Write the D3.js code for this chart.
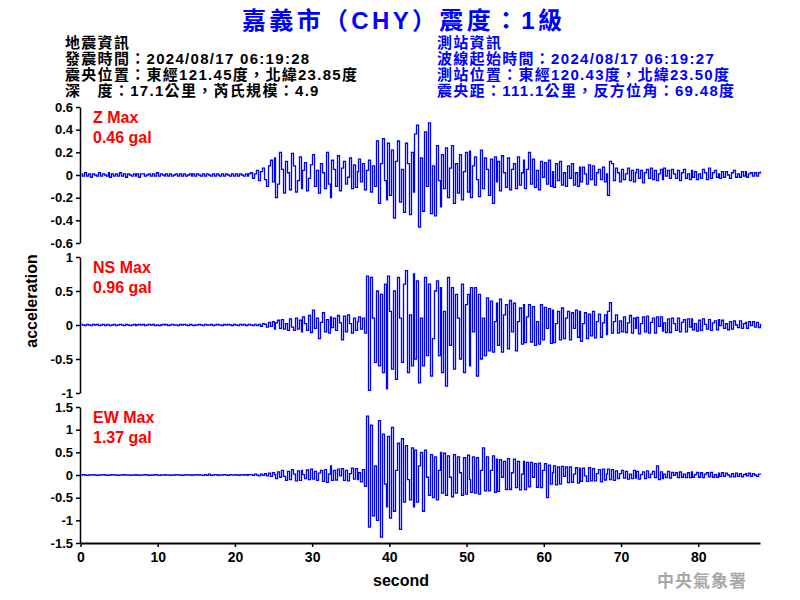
<!DOCTYPE html>
<html><head><meta charset="utf-8">
<script src="https://cdn.jsdelivr.net/npm/d3@7"></script>
<style>body{margin:0;background:#fff}</style>
</head><body><svg id="c" width="800" height="600"></svg>
<script>
const titleText = "嘉義市（CHY）震度：1級";
const quakeInfo = ["地震資訊","發震時間：2024/08/17 06:19:28","震央位置：東經121.45度，北緯23.85度","深　度：17.1公里，芮氏規模：4.9"];
const stationInfo = ["測站資訊","波線起始時間：2024/08/17 06:19:27","測站位置：東經120.43度，北緯23.50度","震央距：111.1公里，反方位角：69.48度"];
const channels = ["Z","NS","EW"];
const maxLabels = ["0.46 gal","0.96 gal","1.37 gal"];
const yLimits = [0.6, 1, 1.5];
const zTicks = [0.6,0.4,0.2,0,-0.2,-0.4,-0.6];
const nsTicks = [1,0.5,0,-0.5,-1];
const ewTicks = [1.5,1,0.5,0,-0.5,-1,-1.5];
const xTicks = [0,10,20,30,40,50,60,70,80];
const dt = 0.25; // seconds between samples
const zData = [
0.01,-0.01,0.02,-0.01, 0.01,-0.02,0.01,0.00, -0.01,0.02,-0.01,0.01, 0.00,-0.01,0.02,-0.02, 0.01,-0.01,0.01,-0.01,
0.02,-0.01,0.01,-0.02, 0.01,0.00,-0.01,0.01, -0.01,0.01,-0.02,0.01, 0.01,-0.01,0.00,0.01, -0.01,0.01,-0.01,0.02,
-0.01,0.01,0.00,-0.01, 0.01,-0.01,0.01,-0.01, 0.00,0.01,-0.01,0.01, -0.01,0.01,-0.01,0.00, 0.01,-0.01,0.01,-0.01,
0.01,0.00,-0.01,0.01, -0.01,0.01,0.00,-0.01, 0.01,-0.01,0.01,0.00, -0.01,0.01,-0.01,0.01, 0.00,-0.01,0.01,-0.01,
0.01,-0.01,0.01,0.00, -0.01,0.01,-0.01,0.01,
0.02,-0.03,0.01,0.04, -0.05,0.03,0.06,-0.04, -0.10,0.08,0.13,-0.06, 0.15,-0.20,-0.08,0.20, 0.05,-0.16,0.12,0.02,
-0.13,0.19,0.08,-0.15, -0.05,0.16,-0.12,0.04, 0.11,-0.14,-0.03,0.09, 0.18,-0.10,0.04,-0.16, 0.10,0.02,-0.12,0.20,
-0.08,-0.20,0.13,0.05, -0.10,0.17,-0.14,0.06, 0.12,-0.08,-0.02,0.15, -0.12,0.09,-0.11,0.03, 0.14,-0.06,0.10,-0.13,
0.04,0.13,-0.15,0.08, -0.10,0.30,-0.25,0.10, 0.32,-0.05,-0.22,0.28, -0.18,0.22,-0.38,0.12, 0.30,-0.24,0.05,-0.33,
0.28,0.10,-0.35,0.20, -0.15,0.36,0.44,-0.46, 0.15,-0.32,0.38,-0.10, 0.46,-0.34,0.08,-0.36, 0.26,-0.05,-0.28,0.18,
-0.12,0.24,-0.20,0.06, 0.26,-0.25,0.10,-0.16, 0.18,-0.22,0.03,0.20, -0.15,0.21,-0.20,0.08, 0.16,-0.04,-0.19,0.22,
-0.12,0.15,0.05,-0.18, 0.14,-0.25,0.16,-0.06, 0.12,-0.14,0.17,0.02, -0.11,0.15,-0.13,0.05, 0.10,-0.12,0.16,-0.09,
0.02,0.13,-0.12,0.05, 0.20,-0.08,0.14,-0.11, 0.04,-0.13,0.12,-0.02, 0.11,-0.08,0.13,-0.10, 0.03,-0.11,0.10,-0.05,
0.12,-0.09,0.02,-0.10, 0.08,-0.03,0.10,-0.09, 0.02,-0.10,0.07,-0.06, 0.07,0.01,-0.08,0.09, -0.04,0.08,-0.09,0.02,
0.05,-0.04,0.07,-0.06, 0.01,-0.18,0.12,0.10, -0.05,0.06,0.02,-0.06, 0.05,-0.04,0.01,0.06, -0.05,0.04,-0.06,0.02,
0.05,-0.03,0.04,-0.07, 0.02,0.05,-0.03,0.06, -0.04,0.04,-0.05,0.01, 0.05,-0.04,0.06,-0.01, 0.04,-0.03,0.05,0.01,
-0.03,0.04,-0.05,0.02, 0.05,-0.03,0.01,-0.04, 0.04,-0.02,0.03,-0.04, 0.01,-0.03,0.05,0.02, -0.04,0.06,-0.03,0.02,
0.04,-0.02,0.01,-0.03, 0.03,-0.02,0.03,0.00, -0.03,0.02,0.04,-0.02, 0.01,-0.02,0.03,-0.01, 0.03,-0.02,0.01,0.02,
-0.01,0.02,-0.01,0.02, 0.03];
const nsData = [
0.01,0.00,-0.01,0.01, 0.00,-0.01,0.01,0.00, 0.01,-0.01,0.00,0.01, -0.01,0.01,0.00,-0.01, 0.00,0.01,-0.01,0.00,
0.01,0.00,-0.01,0.01, 0.00,-0.01,0.00,0.01, -0.01,0.00,0.01,0.00, 0.01,-0.01,0.00,0.01, 0.00,0.01,-0.01,0.00,
-0.01,0.00,0.01,0.00, 0.01,-0.01,0.00,0.01, 0.00,0.00,-0.01,0.01, 0.00,0.01,0.00,-0.01, 0.01,0.00,-0.01,0.00,
0.00,0.01,0.00,-0.01, 0.01,0.00,0.00,0.01, -0.01,0.00,0.01,0.00, 0.00,-0.01,0.01,0.00, 0.01,0.00,-0.01,0.01,
0.00,-0.01,0.01,0.00, 0.01,-0.01,0.00,0.01, 0.00,-0.01,0.01,-0.01,
0.01,-0.02,0.02,0.01, -0.03,0.04,-0.02,0.05, -0.06,0.03,0.07,-0.05, 0.08,-0.06,0.02,-0.08, 0.09,-0.03,-0.08,0.10,
-0.06,0.07,-0.10,0.12, 0.02,-0.08,0.14,-0.11, 0.22,-0.05,0.10,-0.20, 0.04,0.18,-0.10,0.08, -0.12,0.12,-0.04,0.10,
-0.08,0.14,0.03,-0.22, 0.13,-0.10,0.15,0.02, -0.12,0.10,-0.08,0.05, 0.12,-0.06,0.10,-0.12, 0.72,-0.96,0.70,0.10,
-0.55,0.50,-0.60,0.45, -0.70,0.60,-0.94,0.72, 0.20,-0.65,0.50,-0.80, 0.70,0.10,-0.55,0.60, 0.80,-0.70,0.15,-0.60,
0.75,-0.50,0.65,-0.85, 0.10,-0.60,0.70,-0.45, 0.60,-0.75,-0.20,0.50, 0.65,-0.45,0.55,-0.70, 0.20,-0.90,0.70,-0.30,
0.55,-0.65,0.45,0.10, -0.50,0.60,-0.70,0.30, 0.45,-0.60,0.55,-0.10, 0.55,-0.75,0.45,-0.50, 0.10,-0.45,0.40,-0.38,
0.35,-0.40,0.05,0.32, -0.30,0.38,-0.40,0.15, 0.30,-0.35,0.36,-0.10, 0.32,-0.38,0.05,0.25, -0.28,0.30,-0.26,0.12,
0.30,-0.25,0.27,-0.30, 0.05,-0.28,0.30,-0.22, 0.26,-0.05,0.24,-0.27, 0.22,-0.26,0.02,0.20, -0.22,0.25,-0.20,0.10,
0.20,-0.22,0.18,-0.05, 0.22,-0.18,0.20,-0.24, 0.02,0.18,-0.20,0.16, -0.16,0.20,-0.19,0.05, 0.16,-0.18,0.03,0.15,
-0.14,0.20,0.33,-0.12, 0.05,0.15,-0.12,0.06, -0.10,0.12,-0.11,0.03, 0.14,-0.12,0.10,-0.05, 0.11,-0.13,0.02,0.12,
-0.10,0.13,-0.12,0.04, 0.10,-0.12,0.12,-0.02, 0.12,-0.09,0.03,-0.11, 0.09,-0.11,0.10,0.02, -0.08,0.10,-0.10,0.04,
0.08,-0.10,0.09,-0.03, 0.09,-0.07,0.02,-0.09, 0.07,-0.08,0.09,0.01, -0.06,0.08,-0.08,0.03, 0.06,-0.07,0.08,-0.01,
0.07,-0.05,0.02,-0.07, 0.05,-0.06,0.06,0.00, -0.04,0.06,-0.05,0.02, 0.04,-0.05,0.05,-0.01, 0.05,-0.03,0.04,-0.04,
0.02];
const ewData = [
0.00,0.01,0.00,-0.01, 0.00,0.00,0.01,0.00, -0.01,0.00,0.00,0.01, 0.00,-0.01,0.00,0.00, 0.01,0.00,0.00,-0.01,
0.00,0.00,0.01,0.00, 0.00,-0.01,0.00,0.00, 0.01,0.00,-0.01,0.00, 0.00,0.01,0.00,-0.01, 0.00,0.00,0.01,0.00,
-0.01,0.00,0.00,0.01, 0.00,0.00,-0.01,0.00, 0.00,0.01,0.00,0.00, -0.01,0.00,0.01,0.00, 0.00,-0.01,0.00,0.00,
0.01,0.00,0.00,-0.01, 0.01,-0.01,0.02,-0.01, 0.00,0.01,0.00,-0.01, 0.00,0.00,0.01,0.00, -0.01,0.01,0.00,0.00,
0.01,-0.01,0.00,0.01, 0.00,0.01,-0.01,0.01,
0.01,-0.01,0.02,0.00, -0.02,0.02,-0.01,0.03, -0.02,0.04,-0.03,0.05, 0.01,-0.08,0.07,-0.05, 0.10,-0.03,-0.12,0.08,
-0.10,0.12,0.02,-0.13, 0.09,-0.12,0.10,0.01, -0.08,0.11,-0.10,0.13, -0.09,0.08,-0.12,0.04, 0.10,-0.14,0.12,-0.16,
0.02,0.20,-0.12,0.10, -0.11,0.13,-0.02,0.14, -0.12,0.10,-0.13,0.03, 0.15,-0.09,0.14,-0.10, 0.05,-0.15,0.12,-0.25,
1.30,-1.15,1.10,-0.90, 0.20,-1.00,1.20,-1.37, 0.90,-0.20,-0.70,0.85, -0.95,1.05,-0.80,0.10, 0.70,-1.20,0.80,-0.60,
0.65,-0.10,-0.55,0.60, -0.70,0.55,-0.60,0.20, 0.50,-0.80,0.55,-0.05, -0.45,0.45,-0.50,0.40, -0.55,0.10,0.50,-0.40,
0.48,-0.45,0.42,-0.05, -0.48,0.45,-0.40,0.40, 0.05,-0.45,0.38,-0.42, 0.44,-0.10,-0.38,0.40, -0.40,0.38,-0.42,0.10,
0.60,-0.35,0.40,-0.35, 0.10,0.42,-0.38,0.35, -0.36,0.34,-0.05,0.30, -0.32,0.36,-0.32,0.05, 0.35,-0.28,0.30,-0.33,
0.02,0.30,-0.32,0.28, -0.26,0.28,-0.05,0.25, -0.27,0.26,-0.28,0.10, 0.25,-0.50,0.22,-0.20, 0.05,0.20,-0.22,0.18,
-0.20,0.19,-0.03,0.18, -0.17,0.18,-0.16,0.02, 0.16,-0.18,0.15,-0.14, 0.15,-0.02,-0.14,0.16, -0.13,0.14,-0.13,0.03,
0.12,-0.15,0.13,-0.11, 0.02,0.13,-0.10,0.12, -0.12,0.09,-0.08,0.03, 0.10,-0.07,0.08,-0.09, 0.02,-0.08,0.10,-0.07,
0.08,-0.09,0.01,0.07, -0.08,0.09,-0.06,0.02, 0.08,-0.06,0.20,-0.10, 0.07,-0.08,0.02,-0.06, 0.08,-0.07,0.06,-0.01,
0.05,-0.06,0.07,-0.05, 0.02,-0.06,0.05,-0.06, 0.07,-0.05,0.01,0.06, -0.05,0.05,-0.06,0.02, 0.05,-0.04,0.06,-0.05,
0.01,-0.05,0.04,-0.03, 0.05,-0.03,0.04,0.00, -0.04,0.03,-0.04,0.04, -0.03,0.03,-0.04,0.01, 0.03,-0.02,0.04,-0.03,
0.03,0.00,-0.03,0.02, 0.01];

const seriesData = [zData, nsData, ewData];
const tickSets = [zTicks, nsTicks, ewTicks];

const svg = d3.select("#c");
const latin = "'Liberation Sans', Arial, 'Noto Sans CJK TC', sans-serif";

// Title
svg.append("text").attr("x", 242).attr("y", 29)
  .attr("textLength", 320).attr("lengthAdjust", "spacing")
  .style("font-family", latin).style("font-size", "24px").style("font-weight", "bold")
  .attr("fill", "#0000ff").text(titleText);

// Info blocks
const info = [[quakeInfo, 65, "#000"], [stationInfo, 437, "#0000ff"]];
info.forEach(([lines, x0, col]) => {
  svg.append("g").selectAll("text").data(lines).join("text")
    .attr("x", x0).attr("y", (d, i) => 48 + i * 16)
    .style("font-family", latin).style("font-size", "15px").style("font-weight", "bold")
    .style("letter-spacing", "1.3px")
    .attr("fill", col).text(d => d);
});

const x = d3.scaleLinear().domain([0, 88]).range([80.5, 760]);
const panelTops = [107, 257, 407];
const panelH = 136;

channels.forEach((ch, k) => {
  const lim = yLimits[k];
  const y = d3.scaleLinear().domain([-lim, lim]).range([panelTops[k] + panelH, panelTops[k]]);
  const g = svg.append("g");
  const line = d3.line().x((d, i) => Math.round(x(i * dt)) + 0.5).y(d => y(d)).curve(d3.curveStepAfter);
  g.append("path").datum(seriesData[k]).attr("d", line)
    .attr("fill", "none").attr("stroke", "#0000ff").attr("stroke-width", 1.3);
  const ax = g.append("g").attr("transform", "translate(80,0)")
    .call(d3.axisLeft(y).tickValues(tickSets[k]).tickSize(4).tickSizeOuter(0).tickPadding(3).tickFormat(d => String(d)));
  ax.select(".domain").attr("stroke", "#000").attr("stroke-width", 1.5);
  ax.selectAll(".tick line").attr("stroke", "#000").attr("stroke-width", 1.5);
  ax.selectAll("text").style("font-family", latin).style("font-size", "13px").style("font-weight", "bold").attr("fill", "#000");
  g.append("text").attr("x", 93).attr("y", panelTops[k] + 16)
    .style("font-family", latin).style("font-size", "16px").style("font-weight", "bold")
    .attr("fill", "#ff0000").text(ch + " Max");
  g.append("text").attr("x", 93).attr("y", panelTops[k] + 36)
    .style("font-family", latin).style("font-size", "16px").style("font-weight", "bold")
    .attr("fill", "#ff0000").text(maxLabels[k]);
});

const xa = svg.append("g").attr("transform", "translate(0,543)")
  .call(d3.axisBottom(x).tickValues(xTicks).tickSize(4).tickSizeOuter(0).tickPadding(5).tickFormat(d => String(d)));
xa.select(".domain").attr("stroke", "#000").attr("stroke-width", 2);
xa.selectAll(".tick line").attr("stroke", "#000").attr("stroke-width", 1.5);
xa.selectAll("text").style("font-family", latin).style("font-size", "14px").style("font-weight", "bold").attr("fill", "#000");

svg.append("text").attr("x", 401).attr("y", 586).attr("text-anchor", "middle")
  .style("font-family", latin).style("font-size", "16px").style("font-weight", "bold").text("second");
svg.append("text").attr("transform", "translate(37,301) rotate(-90)").attr("text-anchor", "middle")
  .style("font-family", latin).style("font-size", "16px").style("font-weight", "bold").text("acceleration");
svg.append("text").attr("x", 702).attr("y", 587).attr("text-anchor", "middle")
  .style("font-family", "'Noto Sans CJK TC', sans-serif").style("font-size", "17px").style("font-weight", "bold")
  .attr("fill", "#a8a8a8").attr("letter-spacing", 1).text("中央氣象署");
</script></body></html>
